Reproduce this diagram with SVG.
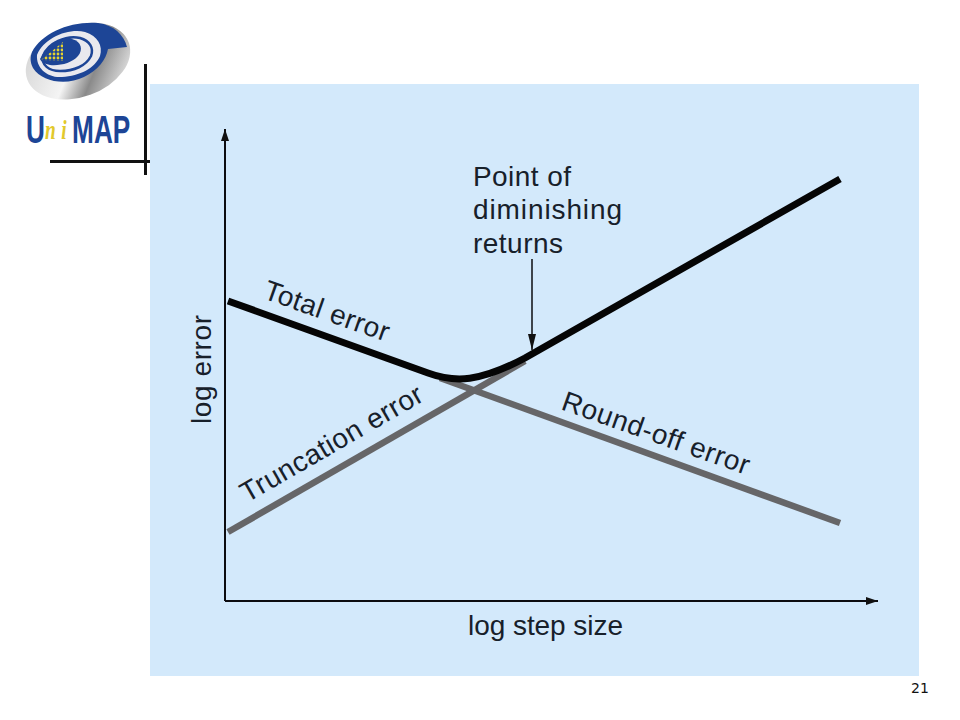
<svg xmlns="http://www.w3.org/2000/svg" width="960" height="720" viewBox="0 0 960 720">
<defs>
<linearGradient id="metal" x1="0" y1="0.1" x2="1" y2="0.7"><stop offset="0" stop-color="#d2d2d2"/><stop offset="0.5" stop-color="#f4f4f4"/><stop offset="0.72" stop-color="#8a8a8a"/><stop offset="1" stop-color="#dcdcdc"/></linearGradient>
<marker id="tip" viewBox="0 0 12 8" markerWidth="12" markerHeight="8" refX="12" refY="4" orient="auto" markerUnits="userSpaceOnUse"><path d="M0 0L12 4L0 8z" fill="#111"/></marker>
<marker id="tip2" viewBox="0 0 16 8" markerWidth="16" markerHeight="8" refX="16" refY="4" orient="auto" markerUnits="userSpaceOnUse"><path d="M0 0L16 4L0 8z" fill="#111"/></marker>
<pattern id="dots" width="4" height="4" patternUnits="userSpaceOnUse"><circle cx="2" cy="2" r="1.4" fill="#e6d22e"/></pattern>
</defs>
<style>
text{font-family:"Liberation Sans",Arial,sans-serif;fill:#17202a}
.l{font-size:28px}
.thin{stroke:#0c0c10;stroke-width:2;fill:none}
.k{stroke:#050505;stroke-width:7;fill:none}
.g{stroke:#666668;stroke-width:6.5;fill:none}
.b{font-size:38px;font-weight:bold;fill:#1d4596}
.y{font-family:"Liberation Serif",serif;font-size:28px;font-style:italic;fill:#e2c92c;letter-spacing:8px}
</style>
<rect width="960" height="720" fill="#fff"/>
<rect id="panel" x="150" y="84" width="769" height="592" fill="#d3e9fb"/>
<g id="logo">
<ellipse cx="78" cy="61" rx="54" ry="36" transform="rotate(-20 78 61)" fill="url(#metal)"/>
<path d="M32 52C42 33 70 21 98 23C114 25 124 35 127 47L108 49C106 60 98 70 84 77C66 86 42 82 33 68C30 62 30 57 32 52z" fill="#1d4596"/>
<path d="M37 55C44 38 68 28 85 32C98 36 103 46 100 56C95 68 80 76 62 77C47 78 36 68 37 55z" fill="#e9e9ee"/>
<path d="M43 56C48 43 66 35 80 38C90 41 94 48 91 56C86 66 74 71 60 71C49 71 41 65 43 56z" fill="none" stroke="#1d4596" stroke-width="2.5"/>
<path d="M40 59C47 44 60 36 72 39C82 42 83 50 78 56C72 63 60 66 50 65C45 64 41 62 40 59z" fill="#1d4596"/>
<path d="M41 60L63 42V61z" fill="url(#dots)"/>
<text id="wordmark" class="b" transform="translate(26 143) scale(.69 1)">U<tspan class="y" dy="-4">ni</tspan><tspan dy="4">MAP</tspan></text>
</g>
<g id="rules" fill="#111"><rect x="144" y="64" width="3" height="111"/><rect x="50" y="160" width="100" height="3"/></g>
<g id="connectors">
<path class="thin" d="M225 601V129" marker-end="url(#tip)"/>
<path class="thin" d="M225 601H878" marker-end="url(#tip)"/>
<path class="g" d="M228 532L525 361"/>
<path class="g" d="M440 378L840 523"/>
<path class="k" d="M228 301L428 373C455 383 480 382 525 358L840 179"/>
<path stroke="#0c0c10" stroke-width="1.5" fill="none" d="M532 259V350" marker-end="url(#tip2)"/>
</g>
<g id="labels">
<text class="l" x="473" y="186" textLength="98" lengthAdjust="spacing">Point of</text>
<text class="l" x="473" y="219" textLength="149" lengthAdjust="spacing">diminishing</text>
<text class="l" x="473" y="253" textLength="90" lengthAdjust="spacing">returns</text>
<text class="l" transform="translate(262 298) rotate(19.5)" textLength="131" lengthAdjust="spacing">Total error</text>
<text class="l" transform="translate(247 503) rotate(-30)" textLength="206" lengthAdjust="spacing">Truncation error</text>
<text class="l" transform="translate(560 409) rotate(19.5)" textLength="197" lengthAdjust="spacing">Round-off error</text>
<text class="l" transform="translate(211 424) rotate(-90)" textLength="109" lengthAdjust="spacing">log error</text>
<text class="l" x="468" y="635" textLength="155" lengthAdjust="spacing">log step size</text>
<text x="911" y="693" style="font-family:'DejaVu Sans',sans-serif;font-size:14px;fill:#111">21</text>
</g>
</svg>
